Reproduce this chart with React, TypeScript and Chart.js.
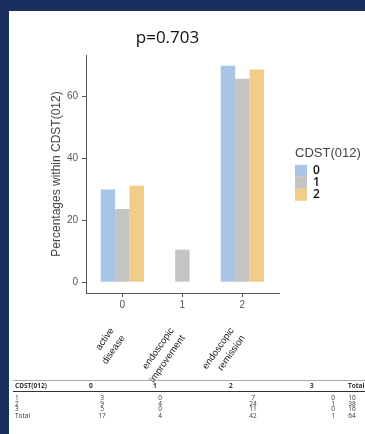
import React, { useEffect, useRef } from "react";
import { Chart, registerables } from "chart.js";

Chart.register(...registerables);

// ---------- data ----------
const titleText = "p=0.703";
const yAxisTitle = "Percentages within CDST(012)";
const legendTitle = "CDST(012)";
const xTickLabels = ["0", "1", "2"];
const categoryLines = [
  ["active", "disease"],
  ["endoscopic", "improvement"],
  ["endoscopic", "remission"],
];
const seriesNames = ["0", "1", "2"];
const series0 = [30.0, 0, 70.0];
const series1 = [23.7, 10.5, 65.8];
const series2 = [31.2, 0, 68.8];
const yTicks = [0, 20, 40, 60];

const tableHeader = ["CDST(012)", "0", "1", "2", "3", "Total"];
const tableRows = [
  ["1", "3", "0", "7", "0", "10"],
  ["2", "9", "4", "24", "1", "38"],
  ["3", "5", "0", "11", "0", "16"],
  ["Total", "17", "4", "42", "1", "64"],
];

// ---------- styles ----------
const NAVY = "#1b2f5e";
const seriesColors = ["#a9c5e6", "#c4c4c4", "#f1cd89"];
const axisColor = "#555555";
const headerX = [6, 80, 144, 220, 301, 339]; // panel-relative positions
const valueCenterX = [0, 93, 151, 244, 324, 343];
const rowY = [387, 393, 398.5, 405.5];

const widenLegend = {
  id: "widenLegend",
  afterLayout(chart: any) {
    const lg = chart.legend;
    if (lg) {
      lg.width += 80;
      lg.right += 80;
    }
  },
};

function ChartCanvas() {
  const ref = useRef<HTMLCanvasElement | null>(null);
  useEffect(() => {
    if (!ref.current) return;
    const all = [series0, series1, series2];
    const setX = (s: any) => {
      s.ticks = xTickLabels.map((_, i) => ({ value: i }));
    };
    const chart = new Chart(ref.current, {
      type: "bar",
      data: {
        datasets: all.map((vals, s) => ({
          label: seriesNames[s],
          data: vals.map((v, i) => ({ x: i, y: v })),
          backgroundColor: seriesColors[s],
          borderWidth: 0,
          barPercentage: 1,
          categoryPercentage: 0.72,
          xAxisID: "x",
          yAxisID: "y",
        })),
      },
      plugins: [widenLegend],
      options: {
        animation: false,
        responsive: false,
        devicePixelRatio: 1,
        layout: { padding: { top: 44, left: 0, right: 40, bottom: 0 } },
        plugins: {
          tooltip: { enabled: false },
          title: { display: false },
          legend: {
            display: true,
            position: "right",
            align: "center",
            fullSize: false,
            maxWidth: 30,
            title: {
              display: true,
              text: legendTitle,
              position: "start",
              color: "#444",
              font: { family: "'Liberation Sans', Arial, sans-serif", size: 13 },
              padding: { top: 0, bottom: 2, left: 0, right: 0 },
            },
            labels: {
              boxWidth: 12,
              boxHeight: 12,
              padding: 0,
              color: "#111",
              font: { family: "'Open Sans', sans-serif", size: 12, weight: "600" },
            },
          },
        },
        scales: {
          x: {
            type: "linear",
            position: "bottom",
            offset: false,
            min: -0.605,
            max: 2.61,
            afterBuildTicks: setX,
            grid: { display: true, offset: false, drawOnChartArea: false, drawTicks: true, tickLength: 4, color: axisColor },
            border: { display: true, color: axisColor, width: 1 },
            ticks: {
              padding: 2,
              autoSkip: false,
              maxRotation: 0,
              minRotation: 0,
              color: "#555",
              font: { family: "'Liberation Sans', Arial, sans-serif", size: 10 },
              callback: (v: any) => xTickLabels[v] ?? "",
            },
          },
          x2: {
            type: "linear",
            position: "bottom",
            weight: 1,
            offset: false,
            min: -0.605 + 0.17,
            max: 2.61 + 0.17,
            afterBuildTicks: setX,
            afterFit: (s: any) => {
              s.height = 83;
            },
            grid: { display: false, offset: false },
            border: { display: false },
            ticks: {
              padding: 4,
              autoSkip: false,
              minRotation: 55,
              maxRotation: 55,
              color: "#222",
              font: { family: "'Liberation Sans', Arial, sans-serif", size: 9.5, lineHeight: 1.4 },
              callback: (v: any) => categoryLines[v] ?? "",
            },
          },
          y: {
            type: "linear",
            min: -3.5,
            max: 73.5,
            afterBuildTicks: (s: any) => {
              s.ticks = yTicks.map((v) => ({ value: v }));
            },
            afterFit: (s: any) => {
              s.width = 77;
            },
            grid: { display: true, drawOnChartArea: false, drawTicks: true, tickLength: 4, color: axisColor },
            border: { display: true, color: axisColor, width: 1 },
            ticks: {
              padding: 4,
              color: "#555",
              font: { family: "'Liberation Sans', Arial, sans-serif", size: 10 },
            },
            title: {
              display: true,
              text: yAxisTitle,
              color: "#444",
              font: { family: "'Liberation Sans', Arial, sans-serif", size: 12 },
              padding: { top: 40, bottom: 0 },
            },
          },
          y2: {
            type: "linear",
            position: "right",
            grid: { display: false },
            border: { display: false },
            ticks: { display: false },
            afterFit: (s: any) => {
              s.width = 16;
            },
          },
        },
      } as any,
    });
    return () => chart.destroy();
  }, []);
  return (
    <canvas
      ref={ref}
      width={356}
      height={385}
      style={{ position: "absolute", left: 0, top: 0, width: 356, height: 385 }}
    />
  );
}

export default function App() {
  const cellStyle = (x: number, y: number, bold: boolean, align: "left" | "center"): React.CSSProperties => ({
    position: "absolute",
    top: y - 3.4,
    left: align === "left" ? x : x - 15,
    width: align === "left" ? undefined : 30,
    textAlign: align,
    fontSize: 6.5,
    lineHeight: "6.5px",
    fontFamily: "'Open Sans', sans-serif",
    fontWeight: bold ? 700 : 400,
    color: "#333",
    whiteSpace: "nowrap",
  });
  return (
    <div
      style={{
        position: "fixed",
        left: 0,
        top: 0,
        width: 365,
        height: 434,
        overflow: "hidden",
        background: NAVY,
      }}
    >
      <div
        style={{
          position: "absolute",
          left: 9,
          top: 11,
          width: 356,
          height: 423,
          background: "#ffffff",
          overflow: "hidden",
        }}
      >
        <ChartCanvas />
        <div
          style={{
            position: "absolute",
            left: 58.5,
            top: 17,
            width: 200,
            textAlign: "center",
            fontFamily: "'Open Sans', sans-serif",
            fontSize: 17,
            lineHeight: "17px",
            color: "#111",
          }}
        >
          {titleText}
        </div>
        {/* table */}
        <div style={{ position: "absolute", left: 4, top: 369, width: 352, height: 1, background: "#aaa" }} />
        <div style={{ position: "absolute", left: 4, top: 379.5, width: 352, height: 1.5, background: "#333" }} />
        {tableHeader.map((h, c) => (
          <div key={"h" + c} style={cellStyle(headerX[c], 375, true, "left")}>
            {h}
          </div>
        ))}
        {tableRows.map((row, r) =>
          row.map((cell, c) => (
            <div
              key={"r" + r + "c" + c}
              style={c === 0 ? cellStyle(headerX[0], rowY[r], false, "left") : cellStyle(valueCenterX[c], rowY[r], false, "center")}
            >
              {cell}
            </div>
          ))
        )}
      </div>
    </div>
  );
}
